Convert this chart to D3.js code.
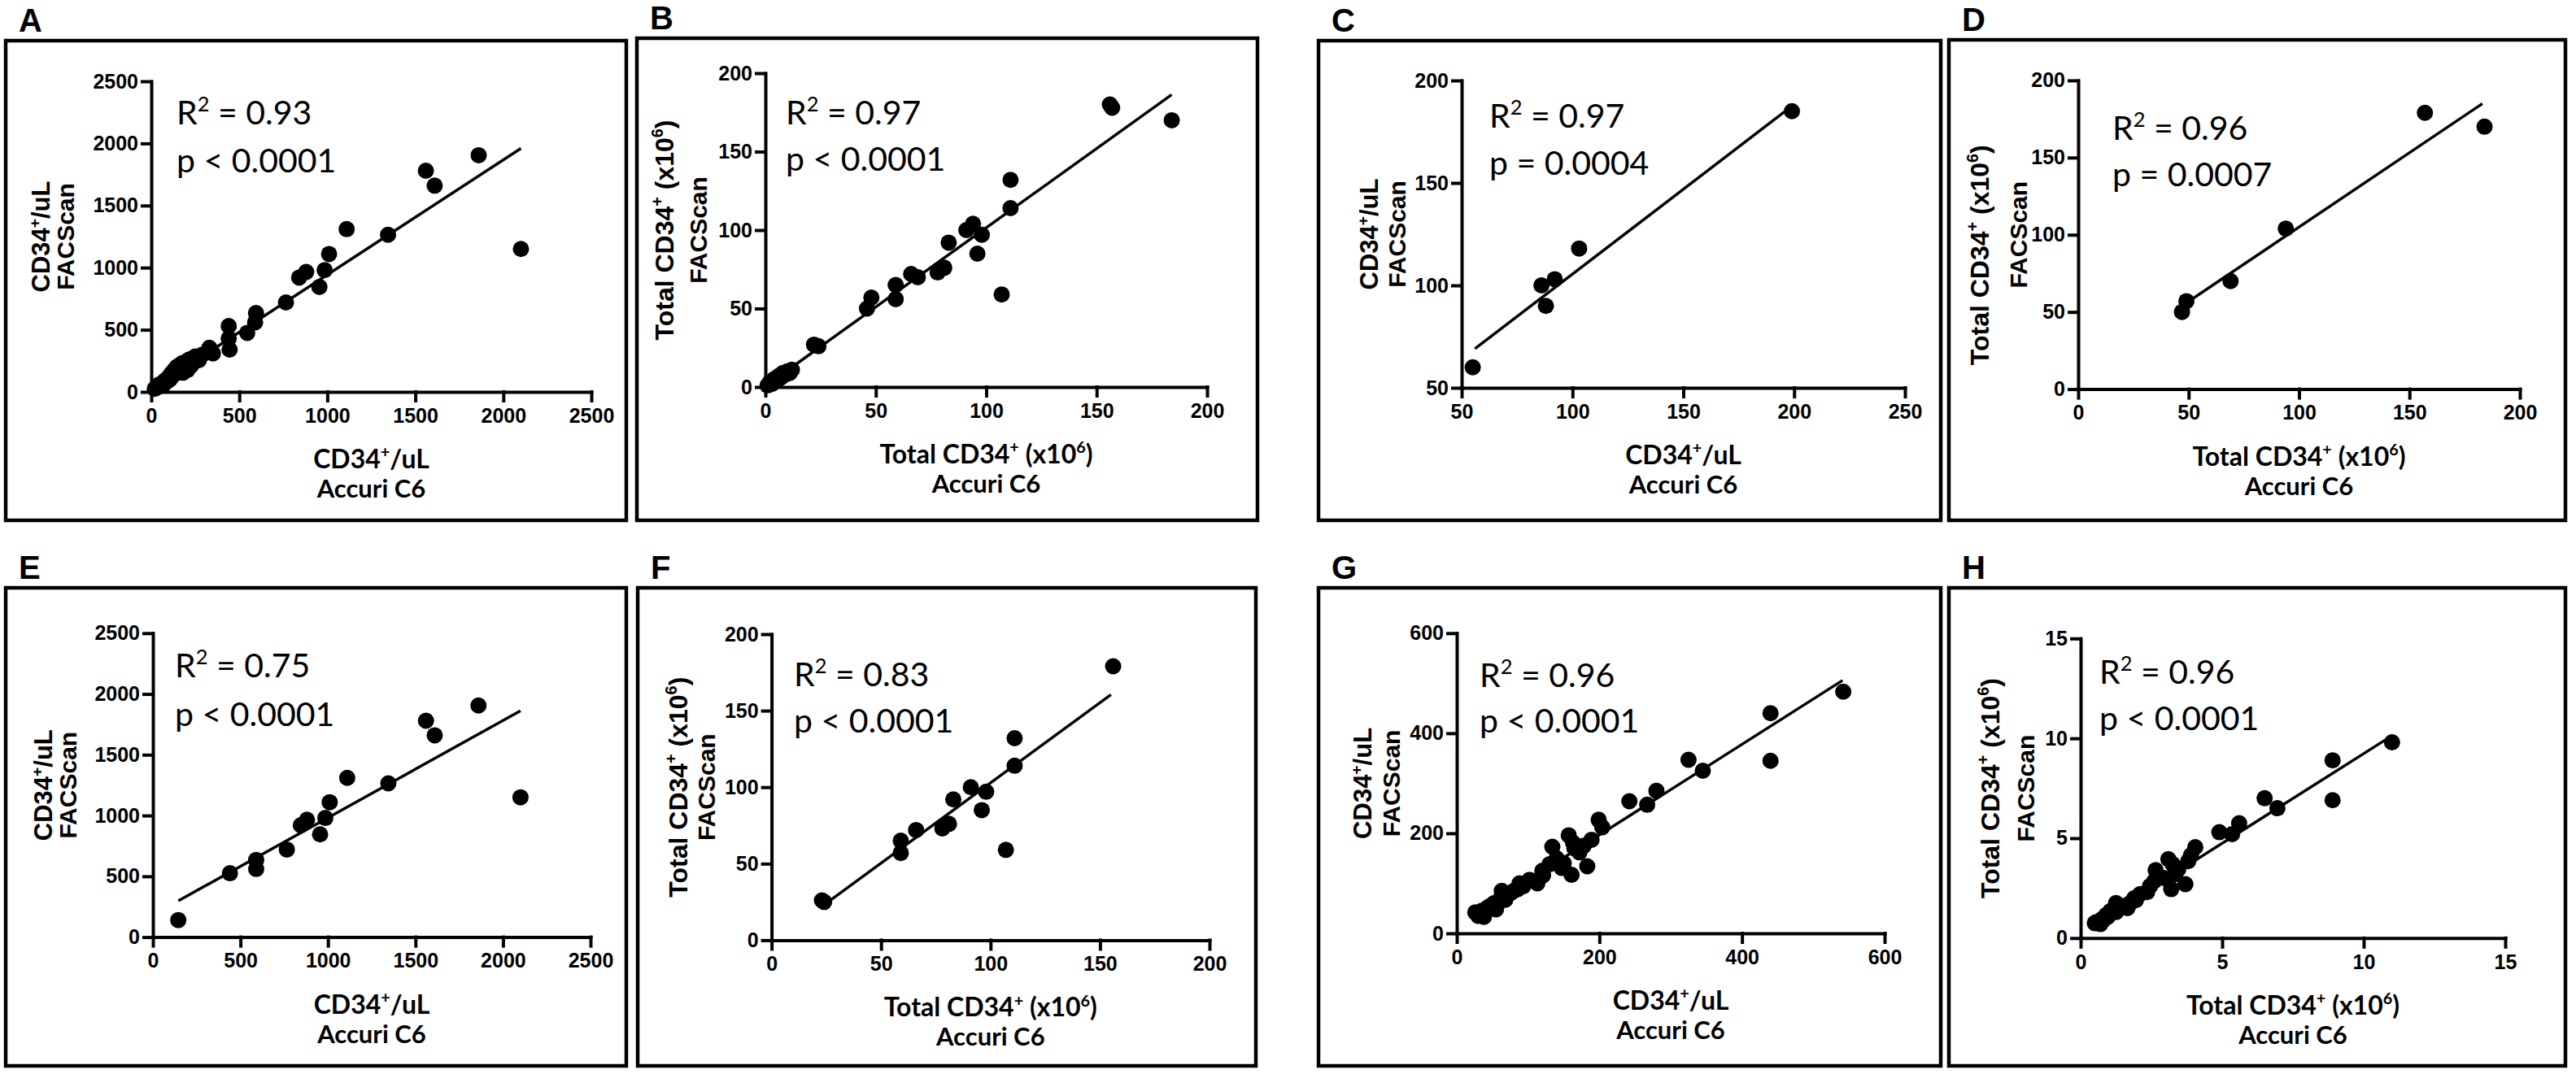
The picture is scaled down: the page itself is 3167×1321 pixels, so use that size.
<!DOCTYPE html>
<html>
<head>
<meta charset="utf-8">
<script src="https://cdn.jsdelivr.net/npm/d3@7"></script>
<style>
  body { margin: 0; background: #fff; }
</style>
</head>
<body>
<div id="chart"></div>
<script>
// ---------------- data ----------------
const panelIds = ["A", "B", "C", "D", "E", "F", "G", "H"];

// CD34+/uL, all samples
const ptsA = [
  [20, 25], [30, 35], [40, 55], [50, 45], [60, 70], [70, 60], [80, 95], [90, 85], [100, 120],
  [105, 100], [115, 150], [120, 130], [130, 175], [135, 145], [145, 200], [150, 165], [160, 215],
  [165, 185], [175, 230], [180, 155], [190, 205], [200, 245], [205, 175], [215, 260], [225, 210],
  [235, 270], [250, 285], [270, 255], [290, 300], [330, 355], [350, 310], [440, 530], [440, 430],
  [445, 340], [545, 475], [590, 560], [595, 635], [765, 720], [840, 920], [880, 965], [955, 845],
  [985, 980], [1010, 1110], [1110, 1310], [1345, 1265], [1560, 1780], [1610, 1660], [1860, 1905],
  [2100, 1150]
];
// Total CD34+ (x10^6), all samples
const ptsB = [
  [1, 1], [2, 3], [3, 2], [4, 5], [5, 4], [6, 7], [7, 6], [8, 9], [9, 8], [10, 10], [11, 9],
  [12, 11], [22, 27], [24, 26], [46, 50], [48, 57], [59, 56], [59, 65], [66, 72], [69, 70],
  [78, 73], [81, 76], [83, 92], [91, 100], [94, 104], [98, 97], [96, 85], [107, 59], [111, 114],
  [111, 132], [156, 180], [157, 178], [184, 170]
];
const ptsC = [[55, 60], [86, 100], [88, 90], [92, 103], [103, 118], [199, 185]];
const ptsD = [[47, 50], [49, 57], [69, 70], [94, 104], [157, 179], [184, 170]];
const ptsE = [
  [145, 140], [440, 525], [590, 635], [590, 560], [765, 720], [845, 920], [880, 965], [955, 845],
  [985, 980], [1010, 1110], [1110, 1310], [1345, 1265], [1560, 1780], [1610, 1660], [1860, 1905],
  [2100, 1150]
];
const ptsF = [
  [23, 26], [24, 25], [59, 65], [59, 57], [66, 72], [78, 73], [81, 76], [83, 92], [91, 100],
  [98, 97], [96, 85], [107, 59], [111, 132], [111, 114], [156, 179]
];
const ptsG = [
  [542, 483], [440, 440], [440, 345], [325, 347], [345, 325], [280, 285], [267, 257], [242, 264],
  [199, 227], [204, 212], [189, 187], [183, 134], [157, 196], [163, 181], [172, 162], [134, 173],
  [161, 117], [147, 131], [130, 138], [121, 116], [113, 100], [102, 107], [88, 100], [93, 94],
  [80, 85], [68, 76], [63, 85], [60, 67], [52, 60], [43, 51], [35, 45], [29, 39], [38, 33],
  [26, 42], [46, 54], [56, 57], [68, 67], [30, 35], [33, 38], [40, 42], [48, 50], [55, 48],
  [75, 80], [85, 88], [110, 105], [120, 125], [140, 150], [150, 140], [165, 170], [178, 175]
];
const ptsH = [
  [11.0, 9.8], [8.9, 8.9], [8.9, 6.9], [6.5, 7.0], [6.95, 6.5], [5.6, 5.75], [5.35, 5.2],
  [4.9, 5.3], [4.05, 4.55], [3.9, 4.15], [3.8, 3.85], [3.7, 2.7], [3.1, 3.95], [3.25, 3.7],
  [3.45, 3.45], [3.35, 3.2], [3.2, 2.45], [2.95, 3.0], [2.65, 3.4], [2.6, 2.85], [2.45, 2.6],
  [2.35, 2.3], [2.1, 2.2], [1.9, 2.0], [1.75, 1.75], [1.5, 1.6], [1.25, 1.75], [1.25, 1.3],
  [1.05, 1.35], [0.9, 1.15], [0.75, 0.95], [0.55, 0.8], [0.7, 0.7], [0.8, 0.9], [0.5, 0.75],
  [0.95, 1.05], [1.65, 1.5], [1.95, 1.9]
];
const allPoints = [ptsA, ptsB, ptsC, ptsD, ptsE, ptsF, ptsG, ptsH];

const xDomains = [[0, 2500], [0, 200], [50, 250], [0, 200], [0, 2500], [0, 200], [0, 600], [0, 15]];
const yDomains = [[0, 2500], [0, 200], [50, 200], [0, 200], [0, 2500], [0, 200], [0, 600], [0, 15]];
const xTicks = [
  [0, 500, 1000, 1500, 2000, 2500], [0, 50, 100, 150, 200], [50, 100, 150, 200, 250],
  [0, 50, 100, 150, 200], [0, 500, 1000, 1500, 2000, 2500], [0, 50, 100, 150, 200],
  [0, 200, 400, 600], [0, 5, 10, 15]
];
const yTicks = [
  [0, 500, 1000, 1500, 2000, 2500], [0, 50, 100, 150, 200], [50, 100, 150, 200],
  [0, 50, 100, 150, 200], [0, 500, 1000, 1500, 2000, 2500], [0, 50, 100, 150, 200],
  [0, 200, 400, 600], [0, 5, 10, 15]
];

// regression lines as drawn
const fitSlopes = [0.925, 1.01, 0.828, 0.963, 0.80, 1.049, 0.906, 0.898];
const fitIntercepts = [18, 0.5, 22.7, 8.7, 182, -2.1, 15.5, 0.255];
const fitRanges = [[0, 2100], [0, 184], [56, 200], [46, 183], [145, 2100], [23, 155], [25, 541], [0.5, 11]];

const r2Values = ["0.93", "0.97", "0.97", "0.96", "0.75", "0.83", "0.96", "0.96"];
const pValues = ["p < 0.0001", "p < 0.0001", "p = 0.0004", "p = 0.0007",
                 "p < 0.0001", "p < 0.0001", "p < 0.0001", "p < 0.0001"];
const unitKinds = ["conc", "total", "conc", "total", "conc", "total", "conc", "total"];

// ---------------- layout (pixels) ----------------
// box [x, y, w, h], x range, y range, stats text [x, y1, y2], y title baselines
const layout = [
  { box: [7, 50, 763, 590],    xr: [186, 727],    yr: [482, 100],    stat: [217, 153, 212],   yt: [61, 91] },
  { box: [783, 47, 763, 593],  xr: [941, 1484],   yr: [476, 90],     stat: [966, 153, 210],   yt: [828, 869] },
  { box: [1621, 50, 765, 590], xr: [1797, 2342],  yr: [477, 99],     stat: [1831, 157, 215],  yt: [1694, 1728] },
  { box: [2396, 49, 758, 591], xr: [2555, 3098],  yr: [478.6, 98.9], stat: [2597, 172, 229],  yt: [2445, 2492], shift1: 25 },
  { box: [7, 723, 763, 588],   xr: [188, 726],    yr: [1152.6, 778.8], stat: [215, 833, 893], yt: [64, 94] },
  { box: [784, 723, 760, 588], xr: [948.6, 1487], yr: [1156.4, 780], stat: [976, 844, 901],   yt: [845, 879] },
  { box: [1621, 723, 765, 588], xr: [1791, 2317], yr: [1148, 778.8], stat: [1819, 845, 901],  yt: [1686, 1721] },
  { box: [2396, 723, 758, 588], xr: [2558, 3080], yr: [1153.8, 785.3], stat: [2581, 841, 898], yt: [2458, 2501] }
];

const ARIAL = "'Liberation Sans', Arial, sans-serif";
const HUMAN = "Lato, 'Open Sans', sans-serif";

const titleParts = {
  conc: [{ t: "CD34" }, { t: "+", sup: true }, { t: "/uL" }],
  total: [{ t: "Total CD34" }, { t: "+", sup: true }, { t: " (x10" }, { t: "6", sup: true }, { t: ")" }]
};
const yTitleSize = { conc: 31, total: 32 };

const svg = d3.select("#chart").append("svg")
  .attr("width", 3167)
  .attr("height", 1321)
  .style("background", "#fff");

// writes text with superscript pieces into a <text>
function addRich(text, parts, fs) {
  let raised = false;
  parts.forEach(p => {
    const t = text.append("tspan").text(p.t);
    if (p.sup) {
      t.attr("font-size", fs * 0.62).attr("dy", raised ? 0 : -fs * 0.4);
      raised = true;
    } else if (raised) {
      t.attr("dy", fs * 0.4);
      raised = false;
    }
  });
}

panelIds.forEach((id, i) => {
  const L = layout[i];
  const g = svg.append("g");

  g.append("rect")
    .attr("x", L.box[0]).attr("y", L.box[1])
    .attr("width", L.box[2]).attr("height", L.box[3])
    .attr("fill", "none").attr("stroke", "#000").attr("stroke-width", 4.5);

  g.append("text")
    .attr("x", L.box[0] + 16).attr("y", L.box[1] - 11)
    .attr("font-family", ARIAL).attr("font-weight", "bold").attr("font-size", 40)
    .text(id);

  const x = d3.scaleLinear().domain(xDomains[i]).range(L.xr);
  const y = d3.scaleLinear().domain(yDomains[i]).range(L.yr);

  const xAxis = g.append("g")
    .attr("transform", `translate(0,${L.yr[0]})`)
    .call(d3.axisBottom(x).tickValues(xTicks[i]).tickSize(11).tickSizeOuter(0)
      .tickPadding(9).tickFormat(d3.format("d")));
  const yAxis = g.append("g")
    .attr("transform", `translate(${L.xr[0]},0)`)
    .call(d3.axisLeft(y).tickValues(yTicks[i]).tickSize(11).tickSizeOuter(0)
      .tickPadding(5).tickFormat(d3.format("d")));

  [xAxis, yAxis].forEach(a => {
    a.attr("font-family", ARIAL).attr("font-size", 25).attr("font-weight", "bold");
    a.selectAll("path, line").attr("stroke", "#000").attr("stroke-width", 4)
      .attr("stroke-linecap", "square");
    a.selectAll("text").attr("fill", "#000");
  });

  // regression line
  const fx = fitRanges[i];
  g.append("line")
    .attr("x1", x(fx[0])).attr("y1", y(fitSlopes[i] * fx[0] + fitIntercepts[i]))
    .attr("x2", x(fx[1])).attr("y2", y(fitSlopes[i] * fx[1] + fitIntercepts[i]))
    .attr("stroke", "#000").attr("stroke-width", 3.5);

  g.append("g").selectAll("circle")
    .data(allPoints[i])
    .join("circle")
    .attr("cx", d => x(d[0]))
    .attr("cy", d => y(d[1]))
    .attr("r", 10)
    .attr("fill", "#000");

  // statistics
  const r2 = g.append("text")
    .attr("x", L.stat[0]).attr("y", L.stat[1])
    .attr("font-family", HUMAN).attr("font-size", 41);
  addRich(r2, [{ t: "R" }, { t: "2", sup: true }, { t: " = " + r2Values[i] }], 41);
  g.append("text")
    .attr("x", L.stat[0]).attr("y", L.stat[2])
    .attr("font-family", HUMAN).attr("font-size", 41)
    .text(pValues[i]);

  // axis titles
  const xMid = (L.xr[0] + L.xr[1]) / 2;
  const yMid = (L.yr[0] + L.yr[1]) / 2;
  const kind = unitKinds[i];
  const parts = titleParts[kind];

  const xt1 = g.append("text")
    .attr("x", xMid).attr("y", L.yr[0] + 94)
    .attr("text-anchor", "middle")
    .attr("font-family", HUMAN).attr("font-weight", 700).attr("font-size", 32);
  addRich(xt1, parts, 32);
  g.append("text")
    .attr("x", xMid).attr("y", L.yr[0] + 130)
    .attr("text-anchor", "middle")
    .attr("font-family", HUMAN).attr("font-weight", 700).attr("font-size", 31)
    .text("Accuri C6");

  const fs1 = yTitleSize[kind];
  const cy1 = yMid + (L.shift1 || 0);
  const yt1 = g.append("text")
    .attr("transform", `translate(${L.yt[0]},${cy1}) rotate(-90)`)
    .attr("text-anchor", "middle")
    .attr("font-family", ARIAL).attr("font-weight", "bold").attr("font-size", fs1);
  addRich(yt1, parts, fs1);
  g.append("text")
    .attr("transform", `translate(${L.yt[1]},${yMid}) rotate(-90)`)
    .attr("text-anchor", "middle")
    .attr("font-family", ARIAL).attr("font-weight", "bold").attr("font-size", 30)
    .text("FACScan");
});
</script>
</body>
</html>
